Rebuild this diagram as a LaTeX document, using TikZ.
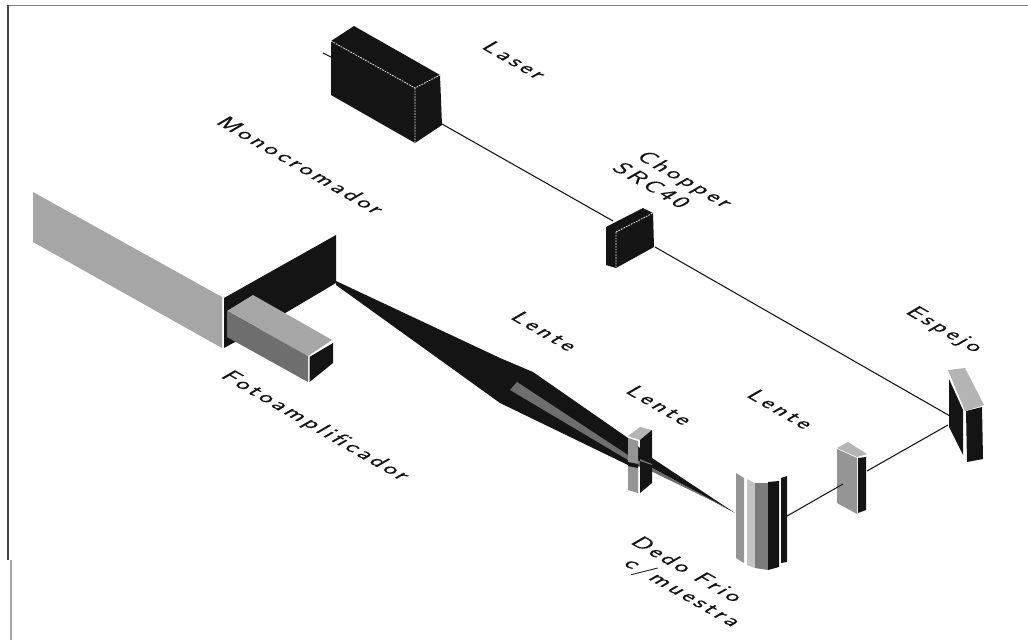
\documentclass[tikz,border=0pt]{standalone}
\usepackage{fontspec}
\setmainfont{Latin Modern Sans}[LetterSpace=12,FakeBold=0.25]
\definecolor{ink}{HTML}{141414}
\definecolor{midgrey}{HTML}{A6A6A6}
\definecolor{darkgrey}{HTML}{6E6E6E}
\definecolor{lensgrey}{HTML}{959595}
\definecolor{lighttop}{HTML}{B4B4B4}
\definecolor{palegrey}{HTML}{C4C4C4}
\tikzset{
  solidk/.style={fill=ink,draw=none},
  facegrey/.style={fill=midgrey,draw=none},
  facedark/.style={fill=darkgrey,draw=none},
  facelens/.style={fill=lensgrey,draw=none},
  facetop/.style={fill=lighttop,draw=none},
  facepale/.style={fill=palegrey,draw=none},
  beam/.style={draw=ink,line width=0.8pt},
  edgedots/.style={draw=white,line width=0.6pt,dash pattern=on 1.2pt off 0.9pt},
  labeltext/.style={inner sep=0pt,font=\fontsize{16.5pt}{17pt}\selectfont,text=ink},
}
\newcommand{\isolabel}[4]{%
  \begin{scope}[shift={(#1,#2)},cm={1.0,-.575,.866,.5,(0,0)},transform shape]
    \node[labeltext] (#3) at (0,0) {#4};
  \end{scope}}
\begin{document}
\begin{tikzpicture}[x=0.75pt,y=-0.75pt]
\useasboundingbox (0,0) rectangle (1028,640);
\fill[white] (0,0) rectangle (1028,640);
% frame
\draw[draw=gray,line width=1.2pt] (8,5.5) -- (1028,5.5);
\draw[draw=ink!80,line width=1.3pt] (8,5) -- (8,560);
\draw[draw=gray!70,line width=1pt] (11,560) -- (11,640);
% connector end points
\coordinate (laserstub) at (323,53);
\coordinate (laserback) at (331,57);
\coordinate (laserout) at (442,124);
\coordinate (chopin) at (613,221);
\coordinate (chopout) at (655,247);
\coordinate (mirrorin) at (950,416);
\coordinate (mirrorout) at (948,425);
\coordinate (lensBout) at (867,471);
\coordinate (lensBin) at (843,484);
\coordinate (fingerin) at (787,516);
% beams
\draw[beam] (laserstub) -- (laserback);
\draw[beam] (laserout) -- (chopin);
\draw[beam] (chopout) -- (mirrorin);
\draw[beam] (mirrorout) -- (lensBout);
% laser
\fill[solidk] (331,41) -- (354,26) -- (440,75) -- (442,125) -- (415,143) -- (331,95) -- cycle;
\draw[edgedots] (331,41) -- (415,88) -- (440,75) (415,88) -- (415,143);
% chopper
\fill[solidk] (606,227) -- (643,208) -- (653,213) -- (654,247) -- (616,268) -- (606,265) -- cycle;
\draw[edgedots] (616,232) -- (616,268) (616,232) -- (653,213);
% monochromator
\fill[facegrey] (33,192) -- (222,297) -- (222,348) -- (33,242) -- cycle;
\fill[solidk] (224,298) -- (336,235) -- (336,283) -- (287,312) -- (235,342) -- (224,348) -- cycle;
% photomultiplier
\fill[facegrey] (227,311) -- (253,295) -- (332,340) -- (308,356) -- cycle;
\fill[facedark] (227,311) -- (308,356) -- (308,382) -- (227,337) -- cycle;
\fill[solidk] (309.5,357) -- (333,343) -- (333,363) -- (309.5,382) -- cycle;
% collected light cone
\fill[solidk] (336,281) -- (500,358) -- (533,372) -- (628,438) -- (652,458) -- (735,513)
   -- (652,468) -- (628,465) -- (500,403) -- (336,285) -- cycle;
\fill[facedark] (510,390) -- (517,382) -- (628,455) -- (727,508) -- (628,460) -- cycle;
% lens A
\fill[facetop] (628,436) -- (640,427) -- (652,430) -- (640,440) -- cycle;
\fill[facelens] (628,438) -- (638,441) -- (638,493) -- (628,490) -- cycle;
\fill[solidk] (640,440) -- (652,430) -- (652,483) -- (640,493) -- cycle;
\fill[solidk] (628,462) -- (638,464) -- (638,468) -- (628,466) -- cycle;
\fill[facedark] (640,459) -- (652,464) -- (652,465) -- (640,461) -- cycle;
% cold finger
\fill[facelens] (736,473) -- (744,478) -- (744,563) -- (736,558) -- cycle;
\fill[facepale] (747,479) -- (755,483) -- (755,568) -- (747,565) -- cycle;
\fill[fill=darkgrey!75!midgrey] (755,483) -- (768,483) -- (768,570) -- (755,568) -- cycle;
\fill[solidk] (768,482) -- (779,481) -- (779,567) -- (768,570) -- cycle;
\fill[solidk] (781,478) -- (787,476) -- (787,562) -- (781,563) -- cycle;
% lens B
\fill[facetop] (837,448) -- (848,442) -- (867,454) -- (857,457) -- cycle;
\fill[facelens] (837,449) -- (857,458) -- (857,514) -- (837,503) -- cycle;
\fill[solidk] (858,458) -- (866,457) -- (866,510) -- (858,513) -- cycle;
\draw[beam] (lensBin) -- (fingerin);
% mirror
\fill[facetop] (948,370) -- (965,368) -- (984,405) -- (965,411) -- cycle;
\fill[solidk] (949,379) -- (963,410) -- (963,455) -- (949,427) -- cycle;
\fill[solidk] (966,411) -- (982,407) -- (983,459) -- (967,462) -- cycle;
% labels
\isolabel{515}{60}{lbLaser}{Laser}
\isolabel{301}{165}{lbMono}{Monocromador}
\isolabel{684}{180}{lbChopper}{Chopper}
\isolabel{652}{185}{lbSrc}{SRC40}
\isolabel{545}{331}{lbLenteA}{Lente}
\isolabel{660}{405}{lbLenteB}{Lente}
\isolabel{781}{409}{lbLenteC}{Lente}
\isolabel{944}{330}{lbEspejo}{Espejo}
\isolabel{315}{426}{lbFoto}{Fotoamplificador}
\isolabel{688}{569}{lbDedo}{Dedo Frio}
\isolabel{682}{593}{lbMuestra}{c/muestra}
\end{tikzpicture}
\end{document}
